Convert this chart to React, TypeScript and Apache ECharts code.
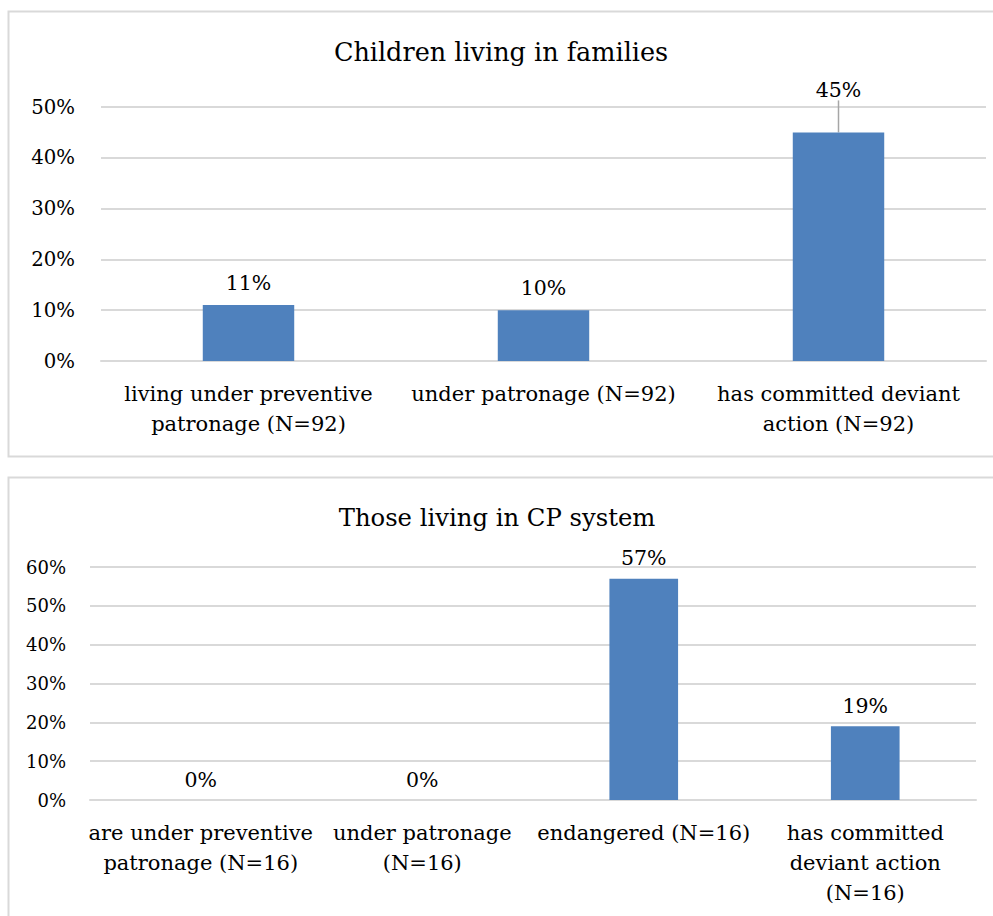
import React, { useEffect, useRef } from "react";
import * as echarts from "echarts";

const topTitle = "Children living in families";
const topCategories = [
  "living under preventive\npatronage (N=92)",
  "under patronage (N=92)",
  "has committed deviant\naction (N=92)",
];
const topValues = [11, 10, 45];
const topTicks = { min: 0, max: 50, interval: 10 };

const bottomTitle = "Those living in CP system";
const bottomCategories = [
  "are under preventive\npatronage (N=16)",
  "under patronage\n(N=16)",
  "endangered (N=16)",
  "has committed\ndeviant action\n(N=16)",
];
const bottomValues = [0, 0, 57, 19];
const bottomTicks = { min: 0, max: 60, interval: 10 };

const FONT = "DejaVu Serif";
const BAR = "#4f81bd";
const GRID = "#d9d9d9";
const TEXT = "#000000";

export default function App() {
  const ref = useRef<HTMLDivElement>(null);
  useEffect(() => {
    if (!ref.current) return;
    const chart = echarts.init(ref.current, undefined, { renderer: "svg" });
    const xAxisCommon = {
      type: "category" as const,
      axisLine: { show: true, lineStyle: { color: GRID, width: 2 } },
      axisTick: { show: false },
      axisLabel: {
        color: TEXT,
        fontFamily: FONT,
        fontSize: 21,
        lineHeight: 30,
        margin: 18,
        interval: 0,
      },
    };
    const yAxisCommon = {
      type: "value" as const,
      axisLine: { show: false },
      axisTick: { show: false },
      splitLine: { lineStyle: { color: GRID, width: 2 } },
    };
    const topData = topValues.map((v, i) =>
      i === 2
        ? { value: v, labelLine: { show: true, lineStyle: { color: "#a6a6a6", width: 1.5 } } }
        : { value: v, labelLine: { show: false } }
    );
    chart.setOption({
      animation: false,
      backgroundColor: "#ffffff",
      textStyle: { fontFamily: FONT },
      title: [
        {
          text: topTitle,
          left: 501,
          top: 39,
          textAlign: "center",
          padding: 0,
          textStyle: { color: TEXT, fontFamily: FONT, fontSize: 25.5, fontWeight: "normal" },
        },
        {
          text: bottomTitle,
          left: 497,
          top: 505,
          textAlign: "center",
          padding: 0,
          textStyle: { color: TEXT, fontFamily: FONT, fontSize: 24.3, fontWeight: "normal" },
        },
      ],
      graphic: [
        {
          type: "rect",
          shape: { x: 8.5, y: 11.5, width: 1000, height: 445 },
          style: { fill: "none", stroke: GRID, lineWidth: 2 },
          silent: true,
        },
        {
          type: "rect",
          shape: { x: 8.5, y: 477.5, width: 1000, height: 460 },
          style: { fill: "none", stroke: GRID, lineWidth: 2 },
          silent: true,
        },
      ],
      grid: [
        { left: 101, right: 7, top: 107, bottom: 555 },
        { left: 90, right: 17, top: 567, bottom: 116 },
      ],
      xAxis: [
        { ...xAxisCommon, gridIndex: 0, data: topCategories },
        { ...xAxisCommon, gridIndex: 1, data: bottomCategories },
      ],
      yAxis: [
        {
          ...yAxisCommon,
          gridIndex: 0,
          ...topTicks,
          axisLabel: { color: TEXT, fontFamily: FONT, fontSize: 19.7, margin: 26, formatter: "{value}%" },
        },
        {
          ...yAxisCommon,
          gridIndex: 1,
          ...bottomTicks,
          axisLabel: { color: TEXT, fontFamily: FONT, fontSize: 18, margin: 24, formatter: "{value}%" },
        },
      ],
      series: [
        {
          type: "bar",
          xAxisIndex: 0,
          yAxisIndex: 0,
          data: topData,
          barWidth: "31%",
          itemStyle: { color: BAR },
          label: {
            show: true,
            position: "top",
            distance: 12,
            color: TEXT,
            fontFamily: FONT,
            fontSize: 20.5,
            formatter: "{c}%",
          },
          labelLayout: (p: any) => (p.dataIndex === 2 ? { dy: -20 } : {}),
        },
        {
          type: "bar",
          xAxisIndex: 1,
          yAxisIndex: 1,
          data: bottomValues,
          barWidth: "31%",
          itemStyle: { color: BAR },
          label: {
            show: true,
            position: "top",
            distance: 10,
            color: TEXT,
            fontFamily: FONT,
            fontSize: 20.5,
            formatter: "{c}%",
          },
        },
      ],
    });
    return () => chart.dispose();
  }, []);
  return (
    <div
      ref={ref}
      style={{ position: "absolute", left: 0, top: 0, width: 993, height: 916 }}
    />
  );
}
